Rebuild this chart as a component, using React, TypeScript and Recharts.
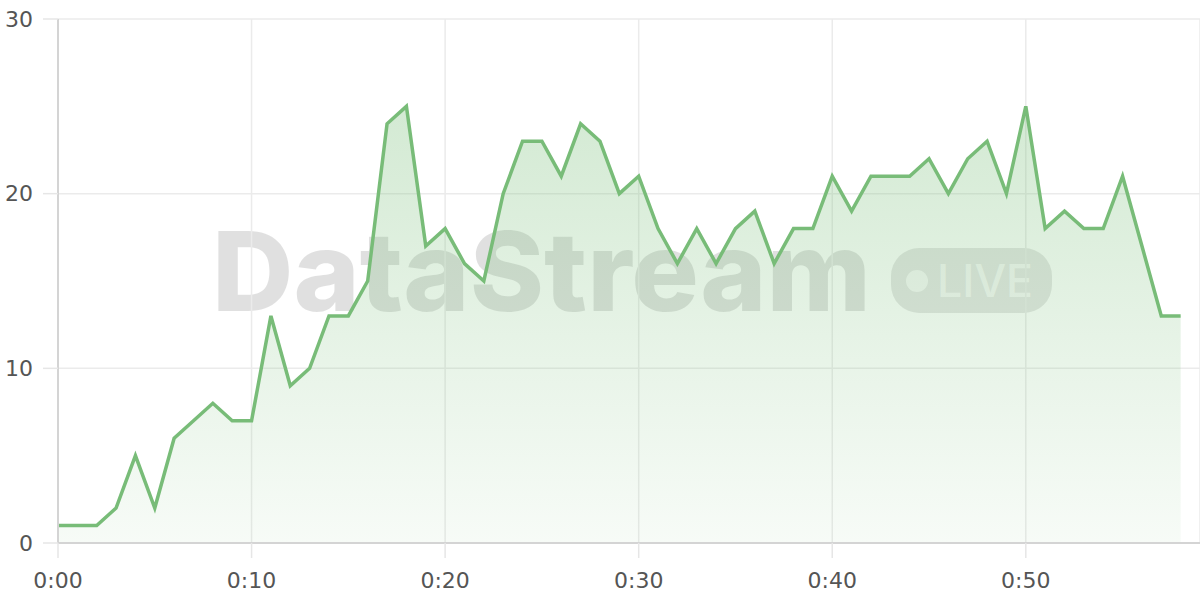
import React from "react";
import { AreaChart, Area, XAxis, YAxis, CartesianGrid } from "recharts";

const minutes: number[] = Array.from({ length: 59 }, (_, i) => i);
const values: number[] = [
  1, 1, 1, 2, 5, 2, 6, 7, 8, 7,
  7, 13, 9, 10, 13, 13, 15, 24, 25, 17,
  18, 16, 15, 20, 23, 23, 21, 24, 23, 20,
  21, 18, 16, 18, 16, 18, 19, 16, 18, 18,
  21, 19, 21, 21, 21, 22, 20, 22, 23, 20,
  25, 18, 19, 18, 18, 21, 17, 13, 13,
];
const xTicks: number[] = [0, 10, 20, 30, 40, 50];
const yTicks: number[] = [0, 10, 20, 30];

const data = minutes.map((t, i) => ({ t, v: values[i] }));

const fmt = (m: number) => `0:${String(m).padStart(2, "0")}`;

const tickStyle = { fill: "#555", fontSize: 22, fontFamily: "DejaVu Sans" };

export default function App() {
  return (
    <div style={{ position: "absolute", left: 0, top: 0, width: 1200, height: 600, background: "#fff" }}>
      <svg width={1200} height={600} style={{ position: "absolute", left: 0, top: 0 }}>
        <text
          x={212}
          y={311}
          fontFamily="Inter"
          fontWeight={800}
          fontSize={110}
          textLength={659}
          lengthAdjust="spacingAndGlyphs"
          fill="rgba(0,0,0,0.12)"
        >
          DataStream
        </text>
        <rect x={891} y={248} width={161} height={65} rx={28} ry={28} fill="rgba(0,0,0,0.1)" />
        <circle cx={917} cy={281} r={11} fill="rgba(255,255,255,0.7)" />
        <text
          x={937}
          y={297}
          fontFamily="Inter"
          fontWeight={500}
          fontSize={45}
          textLength={96}
          lengthAdjust="spacingAndGlyphs"
          fill="rgba(255,255,255,0.7)"
        >
          LIVE
        </text>
      </svg>
      <div style={{ position: "absolute", left: 0, top: 0 }}>
        <AreaChart width={1200} height={600} data={data} margin={{ top: 19, right: 0, bottom: 0, left: 0 }}>
          <defs>
            <linearGradient id="fillG" x1="0" y1="0" x2="0" y2="1">
              <stop offset="0%" stopColor="#7abf7a" stopOpacity={0.33} />
              <stop offset="100%" stopColor="#7abf7a" stopOpacity={0.06} />
            </linearGradient>
          </defs>
          <CartesianGrid stroke="#ebebeb" strokeWidth={1.5} />
          <XAxis
            dataKey="t"
            type="number"
            domain={[0, 59]}
            ticks={xTicks}
            tickFormatter={fmt}
            height={57}
            tickSize={15}
            tickMargin={14}
            tick={tickStyle}
            axisLine={{ stroke: "#d4d4d4", strokeWidth: 2 }}
            tickLine={{ stroke: "#e6e6e6", strokeWidth: 1.5 }}
          />
          <YAxis
            type="number"
            domain={[0, 30]}
            ticks={yTicks}
            width={58}
            tickSize={15}
            tickMargin={10}
            tick={tickStyle}
            axisLine={{ stroke: "#d4d4d4", strokeWidth: 2 }}
            tickLine={{ stroke: "#e6e6e6", strokeWidth: 1.5 }}
          />
          <Area
            type="linear"
            dataKey="v"
            stroke="#78bc78"
            strokeWidth={3.5}
            fill="url(#fillG)"
            fillOpacity={1}
            dot={false}
            activeDot={false}
            isAnimationActive={false}
          />
        </AreaChart>
      </div>
    </div>
  );
}
